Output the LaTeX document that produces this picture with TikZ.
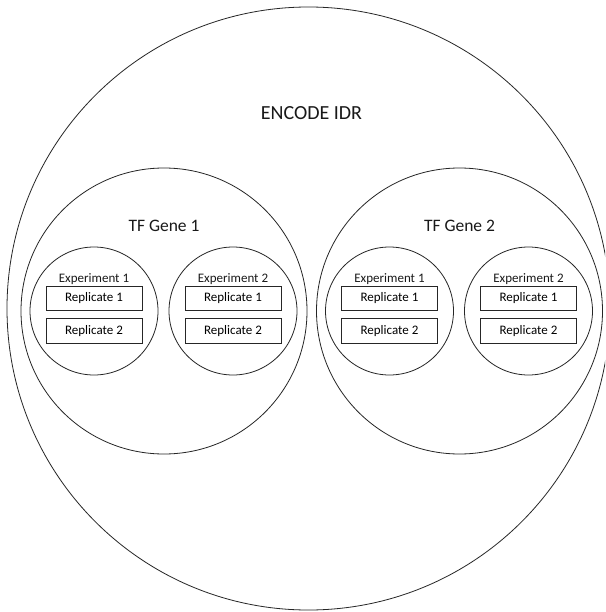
\documentclass[tikz,border=0pt]{standalone}
\usepackage{fontspec}
\setmainfont{Carlito}
\tikzset{
  ring/.style={draw, circle, inner sep=0pt, line width=0.8pt, black!85},
  repbox/.style={draw, rectangle, minimum width=96pt, minimum height=24.5pt,
    inner sep=0pt, line width=0.8pt, black!85, text=black,
    font=\fontsize{13}{15}\selectfont},
  label/.style={anchor=base, inner sep=0pt, text=black!90},
}
\begin{document}
\begin{tikzpicture}[x=1pt,y=-1pt]
  \useasboundingbox (0,0) rectangle (605,612);
  \clip (0,0) rectangle (605,612);
  \fill[white] (0,0) rectangle (605,612);
  % outer circle
  \node[ring, minimum size=603pt] (idr) at (308.5,308.5) {};
  \node[label, font=\fontsize{20}{24}\selectfont] (idrtext) at (311.5,120) {ENCODE IDR};
  % genes
  \foreach \g/\x in {1/164,2/459.5} {
    \node[ring, minimum size=286pt] (gene\g) at (\x,311) {};
    \node[label, font=\fontsize{17.5}{21}\selectfont] (genetext\g) at (\x,231.5) {TF Gene \g};
    % experiments
    \foreach \e/\d in {1/-70,2/69} {
      \node[ring, minimum size=128pt] (exp\g\e) at ({\x+\d},311) {};
      \node[label, font=\fontsize{13}{15}\selectfont] (exptext\g\e) at ({\x+\d},282.5) {Experiment \e};
      \node[repbox] (rep\g\e a) at ({\x+\d},298.5) {Replicate 1};
      \node[repbox] (rep\g\e b) at ({\x+\d},331) {Replicate 2};
    }
  }
\end{tikzpicture}
\end{document}
